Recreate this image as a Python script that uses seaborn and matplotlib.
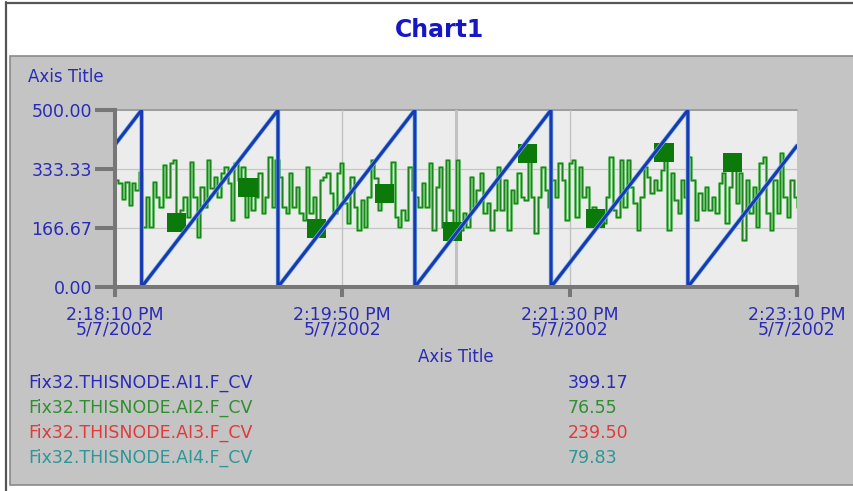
import numpy as np
import pandas as pd
import matplotlib
matplotlib.use("Agg")
import matplotlib.pyplot as plt
from matplotlib.patches import Rectangle
from matplotlib.lines import Line2D
import seaborn as sns

# ---------------------------------------------------------------- data
# Time axis: seconds after 2:18:10 PM on 5/7/2002
x_tick_pos = [0, 100, 200, 300]
x_tick_labels = ["2:18:10 PM\n5/7/2002", "2:19:50 PM\n5/7/2002",
                 "2:21:30 PM\n5/7/2002", "2:23:10 PM\n5/7/2002"]
y_tick_pos = [0, 166.67, 333.33, 500]
y_tick_labels = ["0.00", "166.67", "333.33", "500.00"]

# Fix32.THISNODE.AI1.F_CV - ramp vertices (time s, value)
ai1_t = [0, 11.7, 11.7, 71.7, 71.7, 131.9, 131.9, 191.8, 191.8, 252.0, 252.0, 300]
ai1_v = [402, 500, 0, 500, 0, 500, 0, 500, 0, 500, 0, 399.17]

# Fix32.THISNODE.AI2.F_CV - sampled every 1.5 s
ai2_step = 1.5
ai2_v = [
    302, 293, 250, 298, 232, 293, 274, 326, 170, 255,
    170, 298, 255, 227, 345, 255, 349, 359, 183, 217,
    255, 199, 354, 255, 142, 283, 227, 359, 279, 312,
    255, 321, 340, 293, 189, 349, 302, 340, 199, 281,
    217, 255, 321, 208, 255, 368, 227, 359, 312, 227,
    208, 321, 227, 283, 208, 189, 340, 208, 255, 166,
    302, 312, 321, 265, 208, 321, 349, 236, 180, 312,
    227, 161, 246, 170, 255, 359, 307, 217, 283, 263,
    274, 354, 199, 170, 217, 189, 340, 274, 255, 227,
    293, 227, 349, 161, 283, 340, 170, 359, 217, 156,
    360, 161, 208, 170, 312, 227, 274, 321, 208, 236,
    161, 217, 340, 217, 302, 161, 274, 236, 321, 255,
    246, 376, 255, 152, 255, 340, 274, 227, 302, 255,
    349, 302, 189, 349, 359, 199, 340, 255, 283, 208,
    227, 194, 208, 180, 255, 368, 217, 199, 359, 227,
    359, 283, 236, 161, 255, 340, 312, 265, 302, 274,
    330, 379, 161, 321, 246, 208, 302, 255, 368, 302,
    189, 265, 217, 283, 217, 255, 208, 293, 321, 180,
    283, 352, 236, 321, 133, 302, 208, 283, 170, 349,
    368, 208, 161, 302, 208, 378, 255, 199, 302, 255,
    227,
]
# sample indices that carry a square marker
ai2_marker_idx = [18, 39, 59, 79, 99, 121, 141, 161, 181]

legend_names = ["Fix32.THISNODE.AI1.F_CV", "Fix32.THISNODE.AI2.F_CV",
                "Fix32.THISNODE.AI3.F_CV", "Fix32.THISNODE.AI4.F_CV"]
legend_values = ["399.17", "76.55", "239.50", "79.83"]
legend_colors = ["#2a2ab8", "#2f8f2f", "#e23a3a", "#2e9696"]

# ---------------------------------------------------------------- style
sns.set_theme(style="white")
plt.rcParams["font.family"] = ["DejaVu Sans"]

W, H = 854, 491
fig = plt.figure(figsize=(W / 100, H / 100), dpi=100)
fig.patch.set_facecolor("white")


def fx(px):
    return px / W


def fy(py):
    return 1 - py / H


# outer frame and grey panel
fig.add_artist(Line2D([fx(6), fx(6)], [fy(2), fy(491)], color="#555555", lw=1.6))
fig.add_artist(Line2D([fx(6), fx(854)], [fy(2.5), fy(2.5)], color="#555555", lw=1.6))
fig.add_artist(Rectangle((fx(10), fy(485)), fx(846), 429 / H, transform=fig.transFigure,
                         facecolor="#c4c4c4", edgecolor="#8a8a8a", lw=1.2, zorder=0))

text_blue = "#2a2ab8"
fig.text(fx(440), fy(30), "Chart1", ha="center", va="center", fontsize=17,
         fontweight="bold", color="#1616c4")

# plot area
L, R, T, B = 115, 797, 110, 287
ax = fig.add_axes([fx(L), fy(B), (R - L) / W, (B - T) / H])
ax.set_facecolor("#ececec")
ax.set_xlim(0, 300)
ax.set_ylim(0, 500)

# grid
for yv in y_tick_pos[1:3]:
    ax.axhline(yv, color="#c6c6c6", lw=0.9, zorder=1)
ax.axhline(500, color="#9c9c9c", lw=1.4, zorder=1, clip_on=False)
for xv, lw in [(100, 1.0), (150, 2.2), (200, 1.0)]:
    ax.axvline(xv, color="#c2c2c2", lw=lw, zorder=1)

# AI2 noisy trace with square markers
ai2_t = np.arange(len(ai2_v)) * ai2_step
df2 = pd.DataFrame({"t": ai2_t, "v": ai2_v})
sns.lineplot(data=df2, x="t", y="v", ax=ax, estimator=None, sort=False,
             drawstyle="steps-post", color="#7cca7c", lw=2.2, zorder=2)
sns.lineplot(data=df2, x="t", y="v", ax=ax, estimator=None, sort=False,
             drawstyle="steps-post", color="#1d831d", lw=1.0, zorder=3)
dm = df2.iloc[ai2_marker_idx]
sns.scatterplot(data=dm, x="t", y="v", ax=ax, marker="s", s=190,
                color="#0b7a0b", edgecolor="none", zorder=4)

# AI1 ramp
df1 = pd.DataFrame({"t": ai1_t, "v": ai1_v})
sns.lineplot(data=df1, x="t", y="v", ax=ax, estimator=None, sort=False,
             color="#6fb6e6", lw=3.2, zorder=5)
sns.lineplot(data=df1, x="t", y="v", ax=ax, estimator=None, sort=False,
             color="#1a38b2", lw=2.2, zorder=6)

# axes
for s in ["top", "right"]:
    ax.spines[s].set_visible(False)
for s in ["left", "bottom"]:
    ax.spines[s].set_color("#777777")
    ax.spines[s].set_linewidth(2.9)
    ax.spines[s].set_zorder(7)

ax.set_xticks(x_tick_pos)
ax.set_xticklabels(x_tick_labels)
ax.set_yticks(y_tick_pos)
ax.set_yticklabels(y_tick_labels)
ax.tick_params(axis="y", direction="out", length=14.4, width=2.9, color="#777777",
               labelsize=12.5, labelcolor=text_blue, pad=2, left=True)
ax.tick_params(axis="x", direction="out", length=7.5, width=2.9, color="#777777",
               labelsize=12.5, labelcolor=text_blue, pad=6, bottom=True)
for lab in ax.get_xticklabels():
    lab.set_linespacing(0.75)

ax.set_xlabel("Axis Title", fontsize=12, color=text_blue, va="center")
ax.xaxis.set_label_coords(0.5, (B - 357) / (B - T))
ax.set_ylabel("Axis Title", fontsize=12, color=text_blue, rotation=0,
              ha="left", va="center")
ax.yaxis.set_label_coords((28 - L) / (R - L), (B - 77) / (B - T))

# legend rows
for k, (name, val, col) in enumerate(zip(legend_names, legend_values, legend_colors)):
    yy = 383 + 25 * k
    fig.text(fx(28), fy(yy), name, ha="left", va="center", fontsize=12.5, color=col)
    fig.text(fx(568), fy(yy), val, ha="left", va="center", fontsize=12.5, color=col)

fig.savefig("out.png", dpi=100)
